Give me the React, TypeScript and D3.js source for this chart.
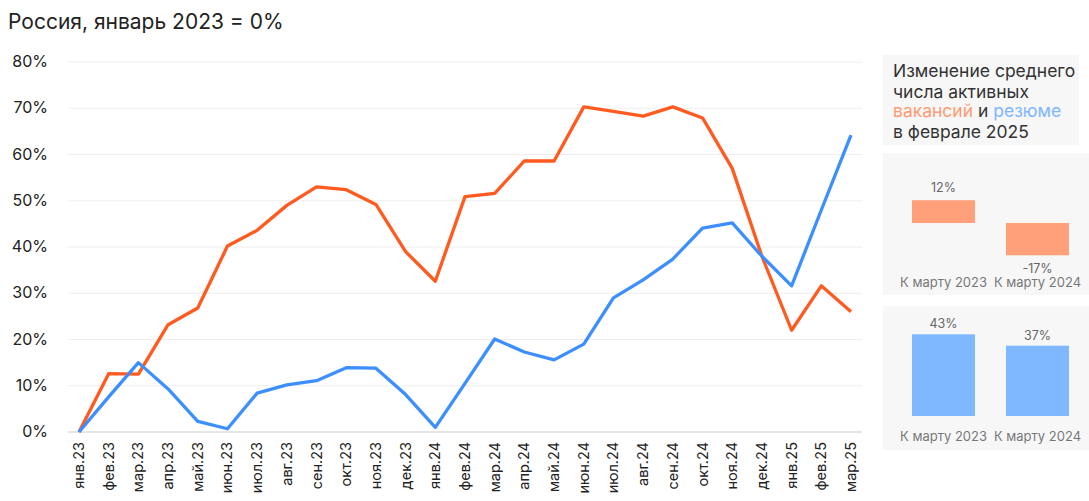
import React from "react";
import * as d3 from "d3";

const months = ["янв.23","фев.23","мар.23","апр.23","май.23","июн.23","июл.23","авг.23","сен.23","окт.23","ноя.23","дек.23","янв.24","фев.24","мар.24","апр.24","май.24","июн.24","июл.24","авг.24","сен.24","окт.24","ноя.24","дек.24","янв.25","фев.25","мар.25"];
const vacancies = [0,12.6,12.5,23.2,26.8,40.2,43.6,49,53,52.4,49.2,39,32.6,50.9,51.6,58.6,58.6,70.3,69.3,68.3,70.3,67.9,57,38,22,31.6,26];
const resumes = [0,7.6,15,9.3,2.3,0.7,8.4,10.2,11.1,13.9,13.8,8.1,1,10.5,20.1,17.3,15.6,19,29,32.9,37.4,44.1,45.2,38,31.6,48,64.2];
const yTicks = [0,10,20,30,40,50,60,70,80];
const barCats = ["К марту 2023","К марту 2024"];
const vacBars = [12,-17];
const resBars = [43,37];

const F = "Inter, 'Noto Sans', sans-serif";

export default function App() {
  const x = d3.scalePoint<string>().domain(months).range([79, 851]);
  const y = d3.scaleLinear().domain([0, 80]).range([432, 62]);
  const line = d3.line<number>().x((_, i) => x(months[i])!).y(d => y(d));
  const bx = d3.scaleBand().domain(barCats).range([912, 1069]).paddingInner(0.33).paddingOuter(0);
  const pv = 1.9;
  return (
    <svg width={1089} height={501} style={{ position: "absolute", left: 0, top: 0 }} fontFamily={F}>
      <rect width={1089} height={501} fill="#fff" />
      <text x={8} y={29} fontSize={21} fill="#222">Россия, январь 2023 = 0%</text>
      {yTicks.map(t => (
        <g key={t}>
          <line x1={68} x2={862} y1={y(t)} y2={y(t)} stroke={t === 0 ? "#ccc" : "#eee"} />
          <text x={48} y={y(t) + 5} fontSize={16} textAnchor="end" fill="#222">{t}%</text>
        </g>
      ))}
      {months.map(m => (
        <text key={m} transform={`translate(${x(m)! + 5},442) rotate(-90)`} fontSize={14.5} textAnchor="end" fill="#222">{m}</text>
      ))}
      <path d={line(vacancies)!} fill="none" stroke="#ff5a1f" strokeWidth={3.3} strokeLinejoin="round" />
      <path d={line(resumes)!} fill="none" stroke="#3d8fff" strokeWidth={3.3} strokeLinejoin="round" />

      <rect x={883} y={55} width={196} height={90} fill="#f7f7f7" />
      <text fontSize={17.5} fill="#333">
        <tspan x={893} y={77}>Изменение среднего</tspan>
        <tspan x={893} y={98}>числа активных</tspan>
        <tspan x={893} y={117} fill="#ff9a72">вакансий</tspan><tspan fill="#333"> и </tspan><tspan fill="#7fb6ff">резюме</tspan>
        <tspan x={893} y={138}>в феврале 2025</tspan>
      </text>

      <rect x={883} y={153} width={206} height={142} fill="#f7f7f7" />
      {barCats.map((c, i) => {
        const base = 223; const v = vacBars[i];
        const top = v >= 0 ? base - v * pv : base;
        return (
          <g key={c}>
            <rect x={bx(c)} y={top} width={bx.bandwidth()} height={Math.abs(v) * pv} fill="#ffa07a" />
            <text x={bx(c)! + bx.bandwidth() / 2} y={v >= 0 ? top - 8 : base + Math.abs(v) * pv + 18} fontSize={12.5} textAnchor="middle" fill="#666">{v}%</text>
            <text x={bx(c)! + bx.bandwidth() / 2} y={287} fontSize={13} textAnchor="middle" fill="#777">{c}</text>
          </g>
        );
      })}

      <rect x={883} y={306} width={206} height={144} fill="#f7f7f7" />
      {barCats.map((c, i) => {
        const base = 416; const v = resBars[i];
        return (
          <g key={c}>
            <rect x={bx(c)} y={base - v * pv} width={bx.bandwidth()} height={v * pv} fill="#7fb8ff" />
            <text x={bx(c)! + bx.bandwidth() / 2} y={base - v * pv - 6} fontSize={12.5} textAnchor="middle" fill="#666">{v}%</text>
            <text x={bx(c)! + bx.bandwidth() / 2} y={441} fontSize={13} textAnchor="middle" fill="#777">{c}</text>
          </g>
        );
      })}
    </svg>
  );
}
